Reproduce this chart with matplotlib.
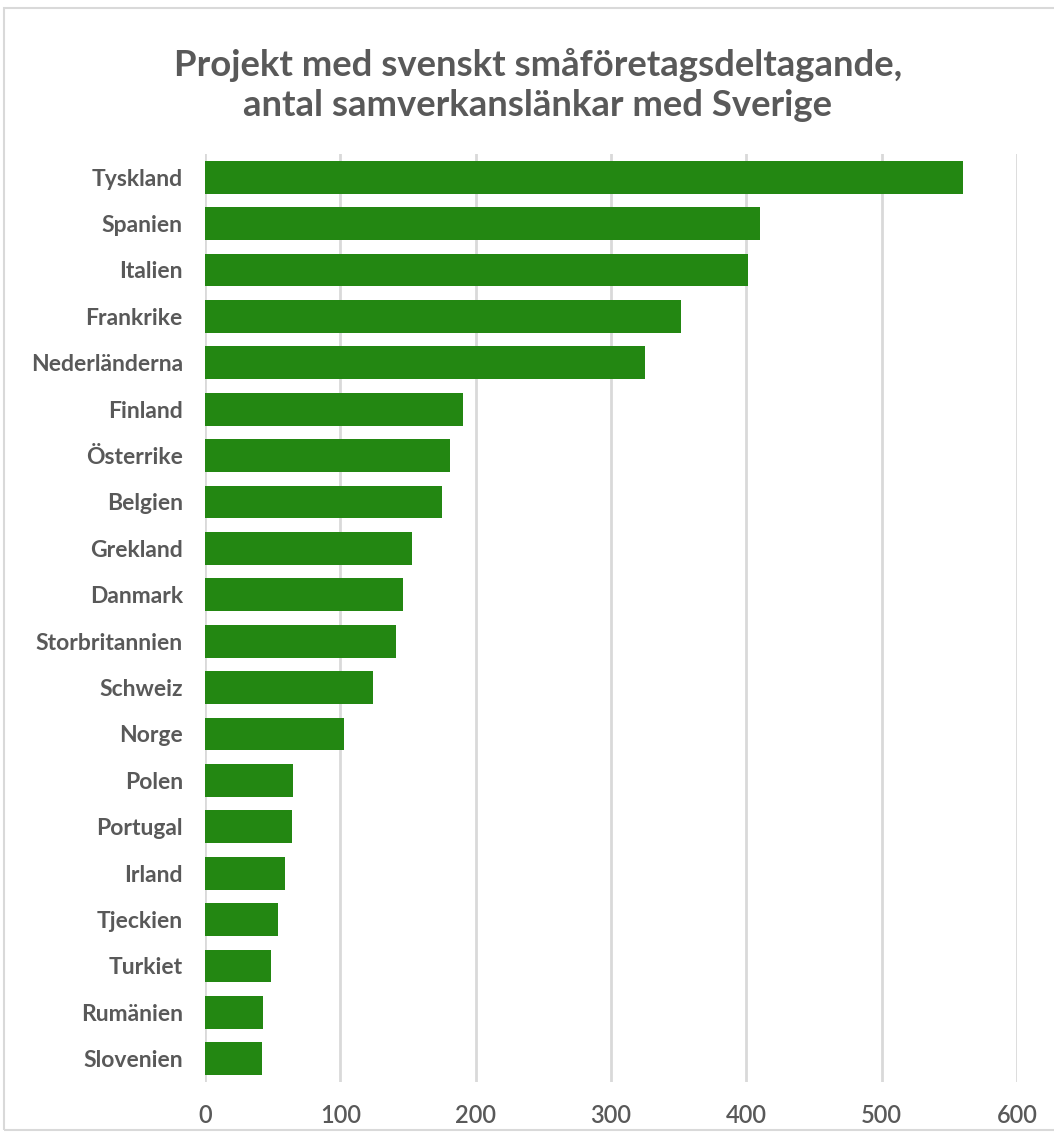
import matplotlib.pyplot as plt
from matplotlib.patches import Rectangle

# Data (läst ur diagrammet)
lander = ["Tyskland", "Spanien", "Italien", "Frankrike", "Nederländerna",
          "Finland", "Österrike", "Belgien", "Grekland", "Danmark",
          "Storbritannien", "Schweiz", "Norge", "Polen", "Portugal",
          "Irland", "Tjeckien", "Turkiet", "Rumänien", "Slovenien"]
lankar = [560, 410, 401, 352, 325,
          191, 181, 175, 153, 146,
          141, 124, 103, 65, 64,
          59, 54, 49, 43, 42]
xticks = [0, 100, 200, 300, 400, 500, 600]

grey = "#595959"
green = "#238712"
font = ["Lato", "DejaVu Sans"]

fig = plt.figure(figsize=(10.54, 11.38), dpi=100)

# ram runt diagrammet
fig.patches.append(Rectangle((4 / 1054, 8 / 1138), 1.1, 1122 / 1138,
                             transform=fig.transFigure, fill=False,
                             edgecolor="#d9d9d9", linewidth=1.5))

ax = fig.add_axes([205 / 1054, 56 / 1138, 812 / 1054, 928 / 1138])

y = list(range(len(lander)))
ax.barh(y, lankar, height=0.71, color=green, zorder=3)

ax.set_xlim(0, 600)
ax.set_ylim(len(lander) - 0.5, -0.5)
ax.set_xticks(xticks)
ax.set_yticks(y)
ax.set_yticklabels(lander, fontfamily=font, fontweight="bold", fontsize=16.5, color=grey)
ax.set_xticklabels([str(t) for t in xticks], fontfamily=font, fontsize=17,
                   fontweight="semibold", color=grey)

ax.grid(axis="x", color="#d9d9d9", linewidth=2, zorder=0)
ax.tick_params(axis="both", length=0)
ax.tick_params(axis="y", pad=16)
ax.tick_params(axis="x", pad=16)
for s in ax.spines.values():
    s.set_visible(False)

fig.text(538 / 1054, 1 - 85 / 1138,
         "Projekt med svenskt småföretagsdeltagande,\nantal samverkanslänkar med Sverige",
         ha="center", va="center", fontfamily=font, fontweight="bold",
         fontsize=26.3, color=grey, linespacing=1.25)

fig.savefig("out.png", dpi=100)
